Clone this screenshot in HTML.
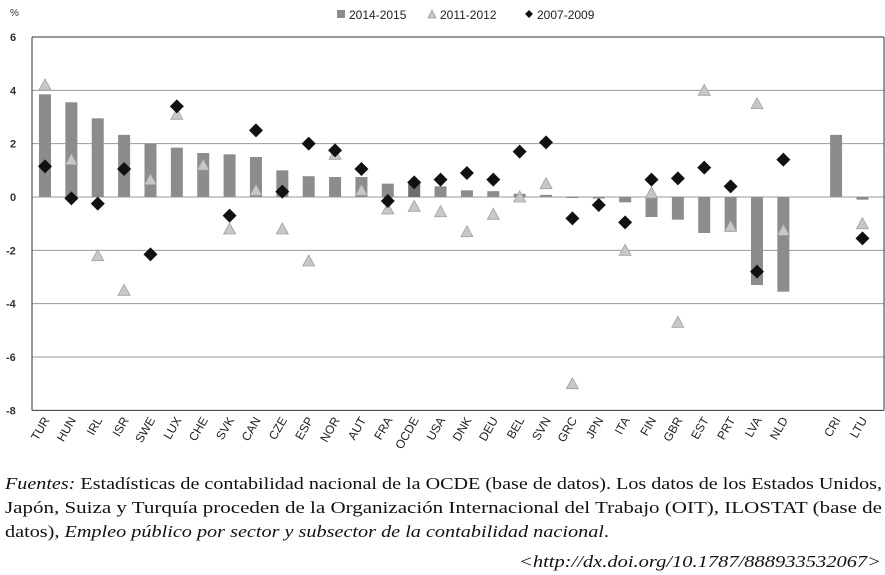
<!DOCTYPE html>
<html><head><meta charset="utf-8"><style>
body{margin:0;background:#fff;width:885px;height:575px;overflow:hidden}
svg{display:block}
</style></head><body>
<svg id="s" width="885" height="575" xmlns="http://www.w3.org/2000/svg" font-family="Liberation Sans, DejaVu Sans, sans-serif">
<rect x="0" y="0" width="885" height="575" fill="#fff"/>
<text x="10" y="16" font-size="10" fill="#333">%</text>
<rect x="337" y="10" width="8" height="8" fill="#8c8c8c"/>
<text x="349" y="19" font-size="12" fill="#222">2014-2015</text>
<polygon points="428,18 432,10 436,18" fill="#c8c8c8" stroke="#999" stroke-width="0.8"/>
<text x="440" y="19" font-size="12" fill="#222">2011-2012</text>
<polygon points="529,10 533,14 529,18 525,14" fill="#111"/>
<text x="537" y="19" font-size="12" fill="#222">2007-2009</text>
<g id="g"></g>
<g font-family="Liberation Serif, serif" font-size="17" fill="#111">
<text x="5" y="489" textLength="877" lengthAdjust="spacingAndGlyphs"><tspan font-style="italic">Fuentes:</tspan> Estadísticas de contabilidad nacional de la OCDE (base de datos). Los datos de los Estados Unidos,</text>
<text x="5" y="513" textLength="877" lengthAdjust="spacingAndGlyphs">Japón, Suiza y Turquía proceden de la Organización Internacional del Trabajo (OIT), ILOSTAT (base de</text>
<text x="5" y="537" textLength="604" lengthAdjust="spacingAndGlyphs">datos), <tspan font-style="italic">Empleo público por sector y subsector de la contabilidad nacional</tspan>.</text>
<text x="519" y="567" textLength="362" lengthAdjust="spacingAndGlyphs" font-style="italic">&lt;http://dx.doi.org/10.1787/888933532067&gt;</text>
</g>
</svg>
<script>
var g=document.getElementById('g'),h='';
function Y(v){return 197-v*26.67;}
var L=32,R=884,T=Y(6),B=Y(-8);
for(var v=-8;v<=6;v+=2){var y=Y(v);
 h+='<line x1="'+L+'" x2="'+R+'" y1="'+y+'" y2="'+y+'" stroke="'+(v==6||v==-8?'#333':'#999')+'" stroke-width="1"/>';
 h+='<text x="'+(v<0?6:10)+'" y="'+(y+4)+'" font-size="11" font-weight="bold" fill="#333">'+v+'</text>';}
h+='<line x1="'+L+'" x2="'+L+'" y1="'+T+'" y2="'+B+'" stroke="#333"/>';
h+='<line x1="'+R+'" x2="'+R+'" y1="'+T+'" y2="'+B+'" stroke="#333"/>';
var c=['TUR','HUN','IRL','ISR','SWE','LUX','CHE','SVK','CAN','CZE','ESP','NOR','AUT','FRA','OCDE','USA','DNK','DEU','BEL','SVN','GRC','JPN','ITA','FIN','GBR','EST','PRT','LVA','NLD','','CRI','LTU'];
var b=[3.85,3.55,2.95,2.33,2.0,1.85,1.65,1.6,1.5,1.0,0.78,0.75,0.75,0.5,0.5,0.4,0.25,0.22,0.12,0.08,0.02,-0.03,-0.2,-0.75,-0.85,-1.35,-1.3,-3.3,-3.55,null,2.33,-0.1];
var t=[4.2,1.4,-2.2,-3.5,0.65,3.1,1.2,-1.2,0.25,-1.2,-2.4,1.6,0.25,-0.45,-0.35,-0.55,-1.3,-0.65,0.0,0.5,-7.0,null,-2.0,0.15,-4.7,4.0,-1.1,3.5,-1.25,null,null,-1.0];
var d=[1.15,-0.05,-0.25,1.05,-2.15,3.4,null,-0.7,2.5,0.2,2.0,1.75,1.05,-0.15,0.55,0.65,0.9,0.65,1.7,2.05,-0.8,-0.3,-0.95,0.65,0.7,1.1,0.4,-2.8,1.4,null,null,-1.55];
var s=26.37;
for(var i=0;i<c.length;i++){var x=45+i*s;
 if(b[i]!==null){var y0=Y(0),y1=Y(b[i]);h+='<rect x="'+(x-6)+'" y="'+Math.min(y0,y1)+'" width="12" height="'+Math.max(1.5,Math.abs(y1-y0))+'" fill="'+(c[i]=='OCDE'?'#6e6e6e':'#8c8c8c')+'"/>';}
 if(t[i]!==null){var y=Y(t[i]);h+='<polygon points="'+(x-6)+','+(y+5)+' '+x+','+(y-6)+' '+(x+6)+','+(y+5)+'" fill="#c8c8c8" stroke="#a0a0a0" stroke-width="0.8"/>';}
 if(d[i]!==null){var y=Y(d[i]);h+='<polygon points="'+x+','+(y-7)+' '+(x+7)+','+y+' '+x+','+(y+7)+' '+(x-7)+','+y+'" fill="#111"/>';}
 if(c[i])h+='<text transform="translate('+(x+5)+',420) rotate(-60)" text-anchor="end" font-size="12" fill="#222">'+c[i]+'</text>';}
g.innerHTML=h;
</script>
</body></html>
